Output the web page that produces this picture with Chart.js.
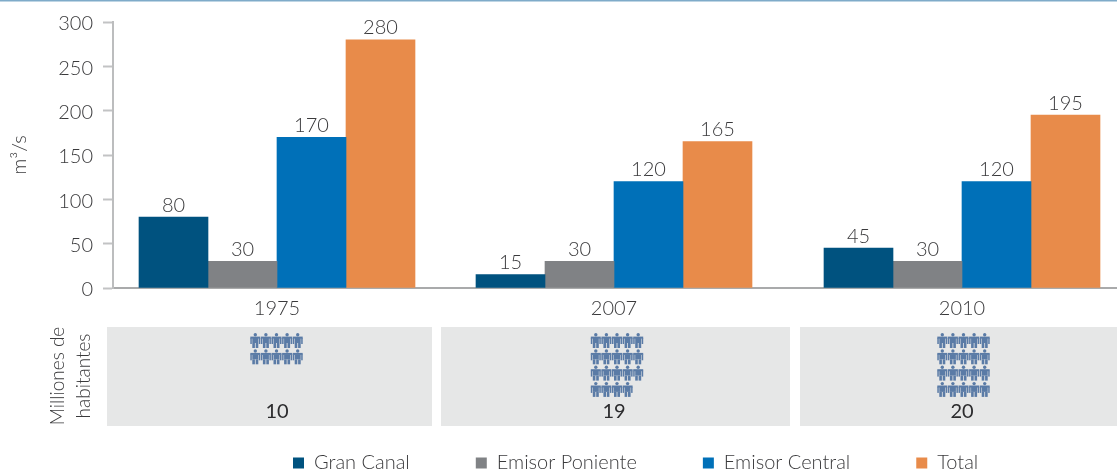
<!DOCTYPE html>
<html>
<head>
<meta charset="utf-8">
<style>
  html, body { margin: 0; padding: 0; background: #fff; }
  canvas { display: block; }
</style>
<script src="https://cdn.jsdelivr.net/npm/chart.js@4/dist/chart.umd.min.js"></script>
</head>
<body>
<canvas id="chart" width="1117" height="472"></canvas>
<script>
const categories = ['1975', '2007', '2010'];
const granCanal = [80, 15, 45];
const emisorPoniente = [30, 30, 30];
const emisorCentral = [170, 120, 120];
const total = [280, 165, 195];
const habitantes = [10, 19, 20];
const yTicks = [0, 50, 100, 150, 200, 250, 300];

// the groups are not evenly spaced in the original, so x is a linear scale
const groupSlots = [277, 614, 962];

const FONT = 'Lato, "Open Sans", sans-serif';
const TEXT = '#3a3a3c';
const AXIS = '#a9aaab';

function series(label, values, color) {
  return {
    label: label,
    data: values.map((v, i) => ({ x: groupSlots[i], y: v })),
    backgroundColor: color,
    barThickness: 69
  };
}

// panels under the axis: grey band, people pictogram, population number
const panels = [
  { left: 107, right: 432, icons: 276.5 },
  { left: 441, right: 790, icons: 617 },
  { left: 800, right: 1117, icons: 963.5 }
];

function drawPerson(ctx, x, y) {
  ctx.beginPath();
  ctx.arc(x, y + 1.7, 1.7, 0, Math.PI * 2);
  ctx.fill();
  ctx.fillRect(x - 5, y + 3.6, 10, 2);       // shoulders
  ctx.fillRect(x - 5, y + 5, 1.5, 6);        // arms
  ctx.fillRect(x + 3.5, y + 5, 1.5, 6);
  ctx.fillRect(x - 3, y + 5, 6, 5);          // torso
  ctx.fillRect(x - 3, y + 10, 2.6, 5);       // legs
  ctx.fillRect(x + 0.4, y + 10, 2.6, 5);
}

const extras = {
  id: 'extras',
  afterLayout(chart) {
    // the legend box is as tall as its item padding, so put it back by hand
    const legend = chart.legend;
    const pad = legend.options.labels.padding;
    legend.left = 293 - pad;
    legend.top = 453 - pad;
    legend.right = chart.width;
    legend.bottom = legend.top + legend.height;
  },
  beforeDraw(chart) {
    const ctx = chart.ctx;
    ctx.save();
    ctx.fillStyle = '#7fabc9';
    ctx.fillRect(0, 0, chart.width, 1.5);

    panels.forEach((p, i) => {
      ctx.fillStyle = '#e6e7e7';
      ctx.fillRect(p.left, 327, p.right - p.left, 99);

      ctx.fillStyle = '#5a7ba6';
      for (let n = 0; n < habitantes[i]; n++) {
        const col = n % 5;
        const row = Math.floor(n / 5);
        drawPerson(ctx, p.icons + (col - 2) * 10.6, 333 + row * 16.3);
      }

      ctx.fillStyle = '#2b2b2d';
      ctx.font = '20px ' + FONT;
      ctx.textAlign = 'center';
      ctx.textBaseline = 'middle';
      ctx.fillText(String(habitantes[i]), groupSlots[i], 412);
    });

    ctx.translate(71, 376);
    ctx.rotate(-Math.PI / 2);
    ctx.fillStyle = TEXT;
    ctx.font = '300 19px ' + FONT;
    ctx.textAlign = 'center';
    ctx.textBaseline = 'middle';
    ctx.fillText('Milliones de', 0, -13);
    ctx.fillText('habitantes', 0, 13);
    ctx.restore();
  },
  afterDatasetsDraw(chart) {
    const ctx = chart.ctx;
    ctx.save();
    ctx.fillStyle = TEXT;
    ctx.font = '300 20px ' + FONT;
    ctx.textAlign = 'center';
    ctx.textBaseline = 'bottom';
    chart.data.datasets.forEach((ds, d) => {
      chart.getDatasetMeta(d).data.forEach((bar, i) => {
        ctx.fillText(String(ds.data[i].y), bar.x, bar.y - 2);
      });
    });
    ctx.restore();
  }
};

new Chart(document.getElementById('chart'), {
  type: 'bar',
  data: {
    datasets: [
      series('Gran Canal', granCanal, '#00527f'),
      series('Emisor Poniente', emisorPoniente, '#808285'),
      series('Emisor Central', emisorCentral, '#0070b8'),
      series('Total', total, '#e88b4a')
    ]
  },
  options: {
    responsive: false,
    animation: false,
    layout: { padding: { top: 21.5 } },
    plugins: {
      tooltip: { enabled: false },
      legend: {
        position: 'bottom',
        align: 'start',
        labels: {
          boxWidth: 11,
          boxHeight: 11,
          padding: 66,
          color: TEXT,
          font: { family: FONT, size: 20, weight: '300' }
        }
      }
    },
    scales: {
      x: {
        type: 'linear',
        offset: false,
        min: 113,
        max: 1117,
        afterFit(scale) { scale.height = 472 - 288 - scale.chart.legend.height; },
        afterBuildTicks(scale) { scale.ticks = groupSlots.map(v => ({ value: v })); },
        grid: { display: false },
        border: { color: AXIS, width: 2 },
        ticks: {
          autoSkip: false,
          maxRotation: 0,
          padding: 1,
          color: TEXT,
          font: { family: FONT, size: 20, weight: '300' },
          callback(value) { return categories[groupSlots.indexOf(value)]; }
        }
      },
      y: {
        min: 0,
        max: 300,
        afterFit(scale) { scale.width = 113; },
        afterBuildTicks(scale) { scale.ticks = yTicks.map(v => ({ value: v })); },
        title: {
          display: true,
          text: 'm³/s',
          color: TEXT,
          padding: { top: 8, bottom: 0 },
          font: { family: FONT, size: 20, weight: '300' }
        },
        grid: { drawOnChartArea: false, drawTicks: true, tickLength: 10, tickColor: '#c2c3c4', tickWidth: 2 },
        border: { color: '#bcbdbe', width: 2 },
        ticks: {
          padding: 10,
          labelOffset: 2,
          color: TEXT,
          font: { family: FONT, size: 20, weight: '300' }
        }
      }
    }
  },
  plugins: [extras]
});
</script>
</body>
</html>
